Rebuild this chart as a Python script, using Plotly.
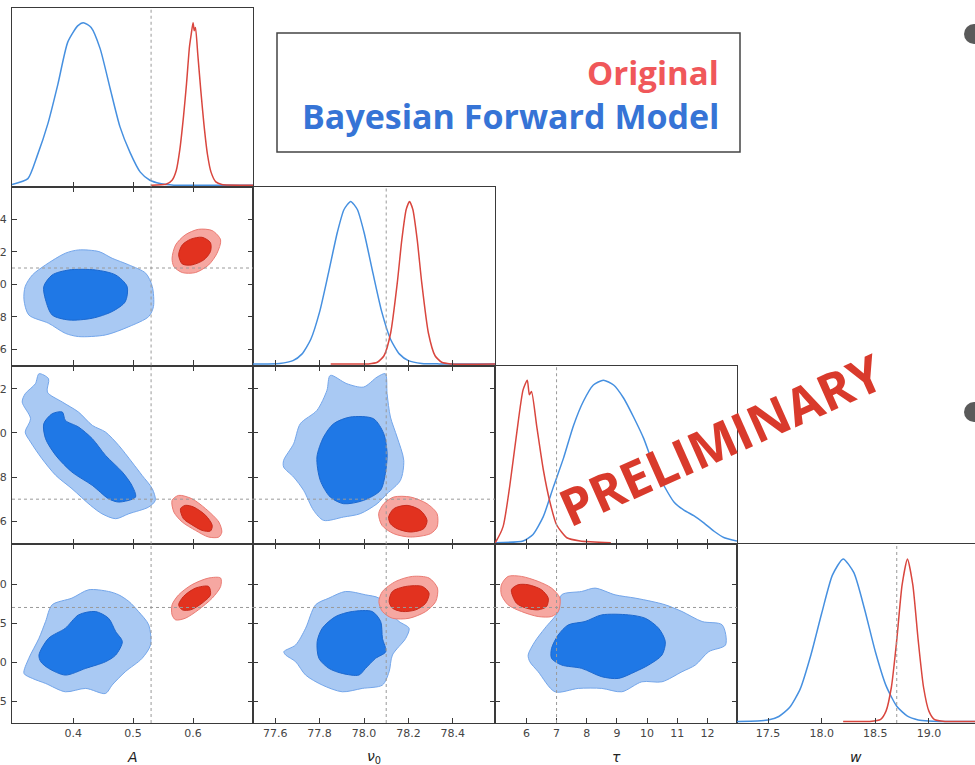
import plotly.graph_objects as go

# ------------------------------------------------------------------ data
PARAM_TITLES = ["<i>A</i>", "<i>ν</i><sub>0</sub>", "<i>τ</i>", "<i>w</i>"]
TRUTH = [0.53, 78.1, 7.0, 18.7]
X_RANGES = [[0.298, 0.700], [77.50, 78.59], [4.96, 12.98], [17.21, 19.43]]
Y_RANGES = [None, [77.50, 78.60], [4.96, 13.05], [17.22, 19.51]]
X_TICKS = [[0.4, 0.5, 0.6], [77.6, 77.8, 78.0, 78.2, 78.4],
           [6, 7, 8, 9, 10, 11, 12], [17.5, 18.0, 18.5, 19.0]]
Y_TICKS = [None, [77.6, 77.8, 78.0, 78.2, 78.4], [6, 8, 10, 12],
           [17.5, 18.0, 18.5, 19.0]]
TICK_FMT = [".1f", ".1f", "d", ".1f"]

# 1D marginals (normalised to peak = 1)
A_blue_x = [0.298, 0.3245, 0.34, 0.358, 0.3745, 0.391, 0.4075, 0.417, 0.43, 0.445,
            0.462, 0.478, 0.495, 0.512, 0.528, 0.545, 0.568, 0.60, 0.70]
A_blue_y = [0.004, 0.04, 0.18, 0.38, 0.62, 0.88, 0.98, 1.0, 0.97, 0.84,
            0.59, 0.36, 0.20, 0.08, 0.03, 0.01, 0.0, 0.0, 0.0]
A_red_x = [0.53, 0.555, 0.565, 0.572, 0.578, 0.584, 0.589, 0.594, 0.597, 0.600,
           0.602, 0.604, 0.608, 0.613, 0.618, 0.624, 0.630, 0.638, 0.648, 0.70]
A_red_y = [0.0, 0.005, 0.03, 0.09, 0.22, 0.42, 0.62, 0.85, 0.93, 1.0,
           0.95, 0.97, 0.80, 0.58, 0.38, 0.19, 0.08, 0.02, 0.004, 0.0]

nu0_blue_x = [77.5, 77.62, 77.68, 77.72, 77.76, 77.80, 77.84, 77.88, 77.91, 77.94,
              77.97, 78.00, 78.04, 78.08, 78.12, 78.16, 78.20, 78.26, 78.34, 78.59]
nu0_blue_y = [0.0, 0.003, 0.02, 0.06, 0.15, 0.32, 0.56, 0.81, 0.95, 1.0,
              0.95, 0.81, 0.56, 0.32, 0.15, 0.06, 0.02, 0.003, 0.0, 0.0]
nu0_red_x = [77.85, 78.02, 78.06, 78.09, 78.12, 78.15, 78.17, 78.19, 78.205, 78.22,
             78.24, 78.26, 78.29, 78.32, 78.35, 78.39, 78.59]
nu0_red_y = [0.0, 0.0, 0.01, 0.05, 0.19, 0.50, 0.76, 0.95, 1.0, 0.95,
             0.76, 0.50, 0.19, 0.05, 0.01, 0.0, 0.0]

tau_blue_x = [4.96, 5.89, 6.22, 6.56, 6.89, 7.23, 7.56, 7.89, 8.22, 8.55, 8.89,
              9.22, 9.56, 9.89, 10.23, 10.56, 10.89, 11.22, 11.56, 11.89, 12.22,
              12.56, 12.98]
tau_blue_y = [0.0, 0.01, 0.05, 0.16, 0.34, 0.52, 0.72, 0.87, 0.97, 1.0, 0.97,
              0.89, 0.77, 0.64, 0.47, 0.35, 0.25, 0.20, 0.165, 0.12, 0.07,
              0.03, 0.01]
tau_red_x = [4.96, 5.0, 5.23, 5.45, 5.67, 5.89, 6.03, 6.10, 6.17, 6.34, 6.56,
             6.78, 7.0, 7.34, 7.78, 8.8]
tau_red_y = [0.0, 0.01, 0.10, 0.35, 0.66, 0.94, 1.0, 0.91, 0.93, 0.72, 0.45,
             0.25, 0.11, 0.03, 0.01, 0.0]

w_blue_x = [17.21, 17.4, 17.5, 17.6, 17.7, 17.8, 17.9, 18.0, 18.1, 18.2, 18.3,
            18.4, 18.5, 18.6, 18.7, 18.8, 18.9, 19.0, 19.1, 19.43]
w_blue_y = [0.0, 0.002, 0.008, 0.03, 0.085, 0.20, 0.41, 0.665, 0.90, 1.0, 0.915,
            0.69, 0.43, 0.22, 0.093, 0.032, 0.009, 0.002, 0.0, 0.0]
w_red_x = [18.2, 18.45, 18.55, 18.6, 18.65, 18.7, 18.75, 18.8, 18.85, 18.9,
           18.95, 19.0, 19.05, 19.15, 19.43]
w_red_y = [0.0, 0.0, 0.013, 0.063, 0.21, 0.50, 0.84, 1.0, 0.84, 0.50,
           0.21, 0.063, 0.013, 0.0, 0.0]

# 2D credible regions (outlines, data coordinates)
A_nu0_blue_outer = [(0.320, 77.986), (0.332, 78.057), (0.354, 78.119), (0.387, 78.191),
                    (0.409, 78.211), (0.443, 78.201), (0.465, 78.160), (0.493, 78.119),
                    (0.521, 78.068), (0.532, 77.986), (0.534, 77.863), (0.526, 77.801),
                    (0.493, 77.739), (0.454, 77.688), (0.409, 77.678), (0.387, 77.698),
                    (0.359, 77.760), (0.326, 77.811), (0.318, 77.904)]
A_nu0_blue_inner = [(0.351, 77.986), (0.365, 78.057), (0.393, 78.088), (0.437, 78.088),
                    (0.471, 78.057), (0.490, 77.986), (0.487, 77.893), (0.465, 77.832),
                    (0.432, 77.791), (0.393, 77.780), (0.365, 77.811), (0.354, 77.904)]
A_nu0_red_outer = [(0.565, 78.160), (0.571, 78.242), (0.587, 78.304), (0.609, 78.338),
                   (0.632, 78.330), (0.646, 78.273), (0.640, 78.191), (0.626, 78.119),
                   (0.604, 78.072), (0.582, 78.072), (0.568, 78.109)]
A_nu0_red_inner = [(0.576, 78.181), (0.582, 78.242), (0.596, 78.277), (0.615, 78.289),
                   (0.629, 78.256), (0.629, 78.201), (0.618, 78.150), (0.598, 78.119),
                   (0.582, 78.125)]

A_tau_blue_outer = [(0.343, 12.677), (0.359, 12.451), (0.357, 11.847), (0.382, 11.395),
                    (0.409, 10.942), (0.432, 10.339), (0.454, 10.037), (0.476, 9.434),
                    (0.498, 8.680), (0.515, 8.077), (0.532, 7.473), (0.537, 6.945),
                    (0.526, 6.644), (0.493, 6.342), (0.471, 6.116), (0.448, 6.342),
                    (0.429, 6.719), (0.398, 7.473), (0.371, 8.077), (0.348, 8.831),
                    (0.329, 9.585), (0.320, 10.037), (0.329, 10.641), (0.315, 11.395),
                    (0.320, 11.772), (0.337, 12.224)]
A_tau_blue_inner = [(0.351, 10.415), (0.365, 10.867), (0.382, 10.942), (0.387, 10.565),
                    (0.409, 10.264), (0.432, 9.736), (0.454, 8.982), (0.482, 8.227),
                    (0.498, 7.624), (0.504, 7.096), (0.476, 6.870), (0.459, 7.021),
                    (0.432, 7.624), (0.398, 8.227), (0.371, 8.982), (0.354, 9.736)]
A_tau_red_outer = [(0.565, 6.945), (0.576, 7.172), (0.598, 7.021), (0.621, 6.568),
                   (0.643, 5.965), (0.648, 5.513), (0.643, 5.286), (0.626, 5.286),
                   (0.604, 5.588), (0.582, 5.965), (0.568, 6.418)]
A_tau_red_inner = [(0.579, 6.568), (0.587, 6.719), (0.601, 6.644), (0.621, 6.267),
                   (0.632, 5.814), (0.629, 5.558), (0.615, 5.588), (0.598, 5.844),
                   (0.584, 6.116)]

nu0_tau_blue_outer = [(77.638, 8.756), (77.683, 9.510), (77.713, 10.415), (77.788, 11.019),
                      (77.833, 11.924), (77.848, 12.602), (77.923, 12.225), (77.998, 12.074),
                      (78.059, 12.527), (78.096, 12.678), (78.104, 11.773), (78.119, 10.717),
                      (78.149, 9.812), (78.179, 8.756), (78.164, 7.851), (78.104, 7.248),
                      (78.059, 6.795), (77.983, 6.343), (77.908, 6.192), (77.818, 6.041),
                      (77.773, 6.494), (77.728, 7.399), (77.683, 8.002), (77.638, 8.454)]
nu0_tau_blue_inner = [(77.788, 8.907), (77.818, 9.812), (77.863, 10.415), (77.938, 10.717),
                      (78.043, 10.641), (78.089, 9.963), (78.104, 9.058), (78.096, 8.153),
                      (78.074, 7.399), (77.998, 6.946), (77.908, 6.795), (77.848, 7.097),
                      (77.803, 7.851)]
nu0_tau_red_outer = [(78.066, 6.343), (78.089, 6.795), (78.134, 7.097), (78.209, 7.097),
                     (78.284, 6.795), (78.329, 6.343), (78.329, 5.740), (78.299, 5.438),
                     (78.209, 5.287), (78.134, 5.438), (78.081, 5.815)]
nu0_tau_red_inner = [(78.111, 6.192), (78.134, 6.569), (78.194, 6.720), (78.254, 6.494),
                     (78.284, 6.041), (78.269, 5.664), (78.209, 5.514), (78.149, 5.664),
                     (78.119, 5.890)]

A_w_blue_outer = [(0.318, 17.855), (0.326, 18.048), (0.343, 18.305), (0.354, 18.520),
                  (0.365, 18.734), (0.398, 18.820), (0.426, 18.927), (0.459, 18.905),
                  (0.476, 18.862), (0.493, 18.777), (0.509, 18.648), (0.526, 18.477),
                  (0.529, 18.220), (0.515, 18.048), (0.487, 17.877), (0.465, 17.706),
                  (0.454, 17.598), (0.421, 17.663), (0.387, 17.620), (0.354, 17.727),
                  (0.332, 17.791)]
A_w_blue_inner = [(0.343, 18.091), (0.359, 18.305), (0.387, 18.434), (0.409, 18.605),
                  (0.437, 18.648), (0.459, 18.562), (0.471, 18.391), (0.482, 18.262),
                  (0.471, 18.091), (0.454, 18.005), (0.421, 17.920), (0.387, 17.834),
                  (0.359, 17.920), (0.346, 18.005)]
A_w_red_outer = [(0.565, 18.605), (0.565, 18.734), (0.576, 18.862), (0.598, 18.991),
                 (0.626, 19.077), (0.646, 19.077), (0.646, 18.969), (0.632, 18.820),
                 (0.609, 18.670), (0.587, 18.562), (0.571, 18.541)]
A_w_red_inner = [(0.576, 18.734), (0.584, 18.841), (0.604, 18.948), (0.626, 18.969),
                 (0.629, 18.862), (0.615, 18.755), (0.596, 18.670), (0.582, 18.670)]

nu0_w_blue_outer = [(77.639, 18.134), (77.692, 18.220), (77.737, 18.434), (77.782, 18.734),
                    (77.842, 18.820), (77.917, 18.905), (78.007, 18.862), (78.067, 18.820),
                    (78.113, 18.648), (78.158, 18.520), (78.203, 18.434), (78.188, 18.305),
                    (78.128, 18.091), (78.113, 17.877), (78.083, 17.706), (77.992, 17.663),
                    (77.902, 17.620), (77.812, 17.706), (77.737, 17.834), (77.692, 18.005),
                    (77.647, 18.091)]
nu0_w_blue_inner = [(77.789, 18.262), (77.812, 18.434), (77.872, 18.584), (77.947, 18.648),
                    (78.037, 18.648), (78.075, 18.520), (78.083, 18.305), (78.098, 18.134),
                    (78.052, 18.048), (78.007, 17.920), (77.977, 17.834), (77.902, 17.855),
                    (77.842, 17.920), (77.797, 18.048)]
nu0_w_red_outer = [(78.067, 18.777), (78.083, 18.905), (78.143, 19.034), (78.218, 19.098),
                   (78.293, 19.077), (78.331, 18.948), (78.323, 18.777), (78.278, 18.648),
                   (78.203, 18.562), (78.128, 18.562), (78.083, 18.648)]
nu0_w_red_inner = [(78.113, 18.777), (78.128, 18.905), (78.188, 18.969), (78.263, 18.969),
                   (78.293, 18.884), (78.278, 18.755), (78.233, 18.670), (78.173, 18.648),
                   (78.128, 18.691)]

tau_w_blue_outer = [(6.059, 18.091), (6.280, 18.262), (6.613, 18.434), (7.056, 18.648),
                    (7.167, 18.862), (7.832, 18.905), (8.276, 18.948), (8.941, 18.862),
                    (9.606, 18.820), (10.161, 18.777), (10.604, 18.734), (11.158, 18.648),
                    (11.824, 18.520), (12.489, 18.477), (12.600, 18.220), (12.045, 18.134),
                    (11.602, 17.963), (11.158, 17.877), (10.493, 17.748), (9.828, 17.748),
                    (9.163, 17.620), (8.498, 17.663), (7.722, 17.663), (6.946, 17.620),
                    (6.391, 17.877), (6.114, 18.005)]
tau_w_blue_inner = [(6.835, 18.177), (7.056, 18.348), (7.389, 18.477), (7.943, 18.520),
                    (8.498, 18.605), (9.385, 18.605), (9.939, 18.562), (10.382, 18.434),
                    (10.604, 18.262), (10.493, 18.091), (10.050, 17.963), (9.606, 17.877),
                    (9.052, 17.791), (8.498, 17.813), (7.832, 17.920), (7.167, 17.963),
                    (6.835, 18.048)]
tau_w_red_outer = [(5.172, 18.991), (5.393, 19.098), (5.837, 19.098), (6.391, 19.034),
                   (6.835, 18.948), (7.112, 18.820), (7.056, 18.648), (6.835, 18.584),
                   (6.391, 18.584), (5.837, 18.648), (5.393, 18.734), (5.172, 18.862)]
tau_w_red_inner = [(5.504, 18.927), (5.726, 18.991), (6.059, 18.991), (6.502, 18.927),
                   (6.724, 18.820), (6.668, 18.712), (6.391, 18.670), (6.003, 18.691),
                   (5.671, 18.755)]

LEGEND_ORIGINAL = "Original"
LEGEND_BFM = "Bayesian Forward Model"
WATERMARK = "PRELIMINARY"

# ------------------------------------------------------------------ styles
BLUE_LINE = "#4690e0"
RED_LINE = "#d9463e"
STYLE = {
    "blue_outer": dict(fill="#a9c9f3", line="#74a6ea"),
    "blue_inner": dict(fill="#1f78e6", line="#1b68cf"),
    "red_outer": dict(fill="#f6a7a1", line="#ea7b73"),
    "red_inner": dict(fill="#e2321f", line="#c82a1b"),
}
FRAME = "#3a3a3a"

diag = {
    0: [(A_blue_x, A_blue_y, BLUE_LINE), (A_red_x, A_red_y, RED_LINE)],
    1: [(nu0_blue_x, nu0_blue_y, BLUE_LINE), (nu0_red_x, nu0_red_y, RED_LINE)],
    2: [(tau_blue_x, tau_blue_y, BLUE_LINE), (tau_red_x, tau_red_y, RED_LINE)],
    3: [(w_blue_x, w_blue_y, BLUE_LINE), (w_red_x, w_red_y, RED_LINE)],
}
pairs = {
    (1, 0): [A_nu0_blue_outer, A_nu0_blue_inner, A_nu0_red_outer, A_nu0_red_inner],
    (2, 0): [A_tau_blue_outer, A_tau_blue_inner, A_tau_red_outer, A_tau_red_inner],
    (2, 1): [nu0_tau_blue_outer, nu0_tau_blue_inner, nu0_tau_red_outer, nu0_tau_red_inner],
    (3, 0): [A_w_blue_outer, A_w_blue_inner, A_w_red_outer, A_w_red_inner],
    (3, 1): [nu0_w_blue_outer, nu0_w_blue_inner, nu0_w_red_outer, nu0_w_red_inner],
    (3, 2): [tau_w_blue_outer, tau_w_blue_inner, tau_w_red_outer, tau_w_red_inner],
}
poly_styles = ["blue_outer", "blue_inner", "red_outer", "red_inner"]

# ------------------------------------------------------------------ layout geometry
W, H = 975, 765
ML, MR, MT, MB = 12, 0, 8, 42
PW, PH = W - ML - MR, H - MT - MB
col_px = [0, 241, 483, 725, PW]
col_edges = [p / PW for p in col_px]
row_edges = [1.0, 0.75, 0.5, 0.25, 0.0]


def px_to_paper(px, py):
    return (px - ML) / PW, (H - MB - py) / PH


fig = go.Figure()
layout = {}
shapes = []
annotations = []

tickfont = dict(family="DejaVu Sans", size=11, color="#444444")

k = 0
for r in range(4):
    for c in range(r + 1):
        k += 1
        suffix = "" if k == 1 else str(k)
        xa, ya = f"x{suffix}", f"y{suffix}"
        xname, yname = f"xaxis{suffix}", f"yaxis{suffix}"
        is_diag = r == c
        xax = dict(domain=[col_edges[c], col_edges[c + 1]], range=X_RANGES[c],
                   anchor=ya, showline=True, linecolor=FRAME, linewidth=1.3,
                   ticks="inside", ticklen=5, tickwidth=1, tickcolor=FRAME,
                   tickvals=X_TICKS[c], tickformat=TICK_FMT[c],
                   showticklabels=(r == 3), tickfont=tickfont,
                   mirror=True if is_diag else "ticks",
                   showgrid=False, zeroline=False, automargin=False, fixedrange=True)
        if is_diag:
            yax = dict(domain=[row_edges[r + 1], row_edges[r]], range=[-0.01, 1.09],
                       anchor=xa, showline=True, linecolor=FRAME, linewidth=1.3,
                       ticks="", showticklabels=False,
                       mirror=(c != 3), showgrid=False, zeroline=False,
                       automargin=False, fixedrange=True)
        else:
            yax = dict(domain=[row_edges[r + 1], row_edges[r]], range=Y_RANGES[r],
                       anchor=xa, showline=True, linecolor=FRAME, linewidth=1.3,
                       ticks="inside", ticklen=5, tickwidth=1, tickcolor=FRAME,
                       tickvals=Y_TICKS[r], tickformat=TICK_FMT[r],
                       showticklabels=(c == 0), tickfont=tickfont,
                       ticklabelstandoff=2,
                       mirror="ticks", showgrid=False, zeroline=False,
                       automargin=False, fixedrange=True)
        layout[xname] = xax
        layout[yname] = yax

        if is_diag:
            for xs, ys, col in diag[r]:
                fig.add_trace(go.Scatter(x=xs, y=ys, xaxis=xa, yaxis=ya, mode="lines",
                                         line=dict(color=col, width=1.5, shape="spline",
                                                   smoothing=0.6),
                                         hoverinfo="skip"))
        else:
            for poly, sty in zip(pairs[(r, c)], poly_styles):
                xs = [p[0] for p in poly] + [poly[0][0]]
                ys = [p[1] for p in poly] + [poly[0][1]]
                st = STYLE[sty]
                fig.add_trace(go.Scatter(x=xs, y=ys, xaxis=xa, yaxis=ya, mode="lines",
                                         fill="toself", fillcolor=st["fill"],
                                         line=dict(color=st["line"], width=1,
                                                   shape="spline", smoothing=0.8),
                                         hoverinfo="skip"))
            shapes.append(dict(type="line", xref=f"{xa} domain", yref=ya,
                               x0=0, x1=1, y0=TRUTH[r], y1=TRUTH[r], layer="above",
                               line=dict(color="#9a9a9a", width=1, dash="dot")))
        shapes.append(dict(type="line", xref=xa, yref=f"{ya} domain",
                           x0=TRUTH[c], x1=TRUTH[c], y0=0, y1=1, layer="above",
                           line=dict(color="#9a9a9a", width=1, dash="dot")))

        if r == 3:
            ax_x, ax_y = px_to_paper(0, 757)
            annotations.append(dict(text=PARAM_TITLES[c], xref=f"{xa} domain", x=0.5,
                                    yref="paper", y=ax_y, showarrow=False,
                                    xanchor="center", yanchor="middle",
                                    font=dict(family="DejaVu Sans", size=14,
                                              color="#222222")))

# legend box
x0, y1 = px_to_paper(277, 33)
x1, y0 = px_to_paper(740, 152)
shapes.append(dict(type="rect", xref="paper", yref="paper", x0=x0, x1=x1, y0=y0, y1=y1,
                   line=dict(color="#444444", width=1.5), fillcolor="white", layer="above"))
lx, ly = px_to_paper(721, 72)
annotations.append(dict(text=f"<b>{LEGEND_ORIGINAL}</b>", xref="paper", yref="paper",
                        x=lx, y=ly, xanchor="right", yanchor="middle", showarrow=False,
                        font=dict(family="Open Sans", size=33, color="#f0575a")))
lx, ly = px_to_paper(721, 116)
annotations.append(dict(text=f"<b>{LEGEND_BFM}</b>", xref="paper", yref="paper",
                        x=lx, y=ly, xanchor="right", yanchor="middle", showarrow=False,
                        font=dict(family="Open Sans", size=34, color="#3674d6")))

# watermark
wx, wy = px_to_paper(720, 439)
annotations.append(dict(text=f"<b>{WATERMARK}</b>", xref="paper", yref="paper",
                        x=wx, y=wy, xanchor="center", yanchor="middle", showarrow=False,
                        textangle=-24,
                        font=dict(family="Open Sans", size=51, color="#d93a2c")))

# slide bullets at the right edge
for cy in (34, 412):
    bx0, by1 = px_to_paper(964, cy - 10)
    bx1, by0 = px_to_paper(984, cy + 10)
    shapes.append(dict(type="circle", xref="paper", yref="paper",
                       x0=bx0, x1=bx1, y0=by0, y1=by1,
                       fillcolor="#5a5a5a", line=dict(width=0), layer="above"))

fig.update_layout(**layout)
fig.update_layout(width=W, height=H, margin=dict(l=ML, r=MR, t=MT, b=MB),
                  template="none", showlegend=False,
                  plot_bgcolor="white", paper_bgcolor="white",
                  shapes=shapes, annotations=annotations)

# remove the browser's default 8 px page margin so the figure sits at (0, 0)
fig.write_html("out.html", config={"displayModeBar": False},
               post_script="document.body.style.margin='0';")
